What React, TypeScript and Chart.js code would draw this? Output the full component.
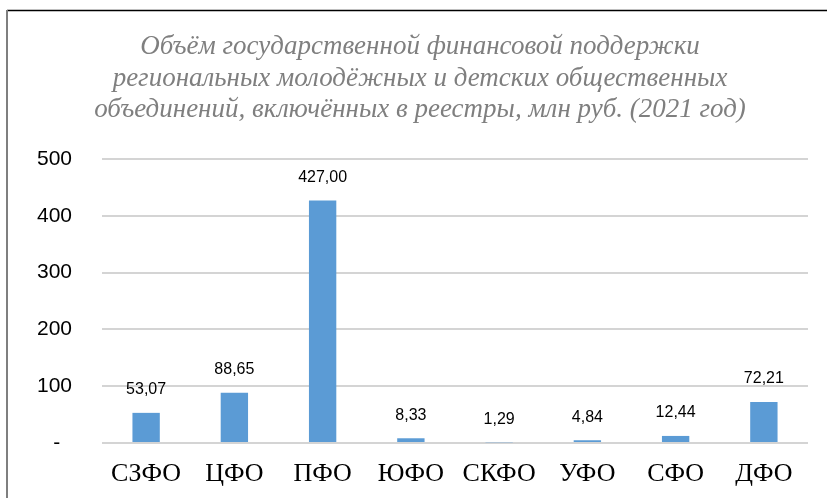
import React, { useEffect, useRef } from "react";
import { Chart, registerables } from "chart.js";

Chart.register(...registerables);

const categories = ["СЗФО", "ЦФО", "ПФО", "ЮФО", "СКФО", "УФО", "СФО", "ДФО"];
const values = [53.07, 88.65, 427.0, 8.33, 1.29, 4.84, 12.44, 72.21];
const titleLines = [
  "Объём государственной финансовой поддержки",
  "региональных молодёжных и детских общественных",
  "объединений, включённых в реестры, млн руб. (2021 год)",
];
const yTicks = [0, 100, 200, 300, 400, 500];

const fmt = (v: number) => v.toFixed(2).replace(".", ",");

export default function App() {
  const ref = useRef<HTMLCanvasElement | null>(null);
  useEffect(() => {
    if (!ref.current) return;
    const decor = {
      id: "decor",
      beforeDraw(chart: any) {
        const ctx = chart.ctx;
        ctx.save();
        ctx.fillStyle = "#ffffff";
        ctx.fillRect(0, 0, chart.width, chart.height);
        ctx.strokeStyle = "#000000";
        ctx.lineWidth = 1.5;
        ctx.beginPath();
        ctx.moveTo(7, 10.5);
        ctx.lineTo(chart.width, 10.5);
        ctx.stroke();
        ctx.strokeStyle = "#7f7f7f";
        ctx.lineWidth = 2;
        ctx.beginPath();
        ctx.moveTo(7, 10);
        ctx.lineTo(7, chart.height);
        ctx.stroke();
        ctx.restore();
      },
      afterDraw(chart: any) {
        const ctx = chart.ctx;
        ctx.save();
        ctx.fillStyle = "#7f7f7f";
        ctx.font = "italic 27px 'Liberation Serif'";
        ctx.textAlign = "center";
        ctx.textBaseline = "middle";
        titleLines.forEach((t, i) => ctx.fillText(t, 420, 47 + i * 31.5));
        const meta = chart.getDatasetMeta(0);
        ctx.fillStyle = "#000000";
        ctx.font = "16px 'Liberation Sans'";
        meta.data.forEach((bar: any, i: number) => {
          ctx.fillText(fmt(values[i]), bar.x, bar.y - 23);
        });
        ctx.restore();
      },
    };
    const chart = new Chart(ref.current, {
      type: "bar",
      data: {
        labels: categories,
        datasets: [
          {
            data: values,
            backgroundColor: "#5b9bd5",
            barPercentage: 0.5,
            categoryPercentage: 0.62,
          },
        ],
      },
      options: {
        animation: false,
        responsive: false,
        layout: { padding: { top: 159, left: 8, right: 19, bottom: 0 } },
        plugins: { legend: { display: false }, tooltip: { enabled: false }, title: { display: false } },
        scales: {
          x: {
            grid: { display: false },
            border: { display: false },
            ticks: { color: "#000000", font: { family: "'Liberation Serif'", size: 26 }, padding: 8 },
            afterFit: (s: any) => {
              s.height = 55;
            },
          },
          y: {
            min: 0,
            max: 500,
            afterBuildTicks: (s: any) => {
              s.ticks = yTicks.map((v) => ({ value: v }));
            },
            grid: { color: "#d4d4d4", lineWidth: 2, drawTicks: false },
            border: { display: false },
            ticks: {
              color: "#000000",
              font: { family: "'Liberation Sans'", size: 21 },
              padding: 30,
              callback: (v: any) => (Number(v) === 0 ? "-  " : String(v)),
            },
            afterFit: (s: any) => {
              s.width = 94;
            },
          },
        },
      },
      plugins: [decor],
    });
    return () => chart.destroy();
  }, []);
  return (
    <div style={{ position: "absolute", left: 0, top: 0, width: 827, height: 498 }}>
      <canvas ref={ref} width={827} height={498} style={{ display: "block" }} />
    </div>
  );
}
